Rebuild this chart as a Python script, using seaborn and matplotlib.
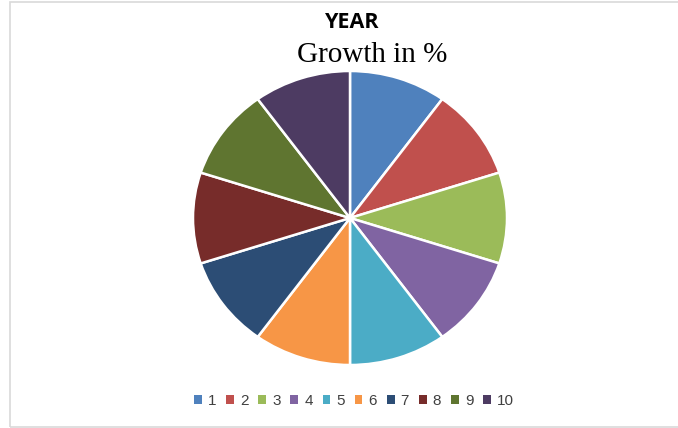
import matplotlib
matplotlib.use("Agg")
import matplotlib.pyplot as plt
import seaborn as sns
from matplotlib.patches import Rectangle, Patch

sns.set_theme(style="white")
plt.rcParams['font.family'] = ['Liberation Sans', 'DejaVu Sans']

years = ["1", "2", "3", "4", "5", "6", "7", "8", "9", "10"]
growth = [10, 10, 10, 10, 10, 10, 10, 10, 10, 10]
colors = ["#4F81BD", "#C0504D", "#9BBB59", "#8064A2", "#4BACC6",
          "#F79646", "#2C4D75", "#772C2A", "#5F7530", "#4D3B62"]
palette = sns.color_palette(colors)

W, H = 678, 428
fig = plt.figure(figsize=(W / 100, H / 100), dpi=100)

# chart border
fig.add_artist(Rectangle((10 / W, 1 / H), (W + 20) / W, 425 / H,
                         transform=fig.transFigure, fill=False,
                         edgecolor="#d9d9d9", linewidth=1.2, clip_on=False))

cx, cy, rx, ry = 350, 218, 157, 147
ax = fig.add_axes([(cx - rx) / W, (H - cy - ry) / H, 2 * rx / W, 2 * ry / H])
ax.pie(growth, colors=palette, startangle=90, counterclock=False,
       wedgeprops=dict(edgecolor="white", linewidth=1.8))
ax.set_aspect('auto')
ax.set_xlim(-1.0, 1.0)
ax.set_ylim(-1.0, 1.0)
ax.axis('off')

fig.text(352 / W, 1 - 22 / H, "YEAR", ha="center", va="center",
         fontsize=15.5, fontweight="bold", color="#000000",
         family=['Open Sans', 'Liberation Sans', 'DejaVu Sans'])
fig.text(372 / W, 1 - 55 / H, "Growth in %", ha="center", va="center",
         fontsize=21, color="#000000",
         family=['Liberation Serif', 'DejaVu Serif'])

handles = [Patch(facecolor=c, edgecolor="none") for c in palette]
fig.legend(handles, years, loc="center", bbox_to_anchor=(354 / W, 1 - 401 / H),
           ncol=10, frameon=False, fontsize=11, handlelength=0.5,
           handleheight=0.5, handletextpad=0.4, columnspacing=0.65,
           labelcolor="#404040")

fig.savefig("out.png", dpi=100, facecolor="white")
